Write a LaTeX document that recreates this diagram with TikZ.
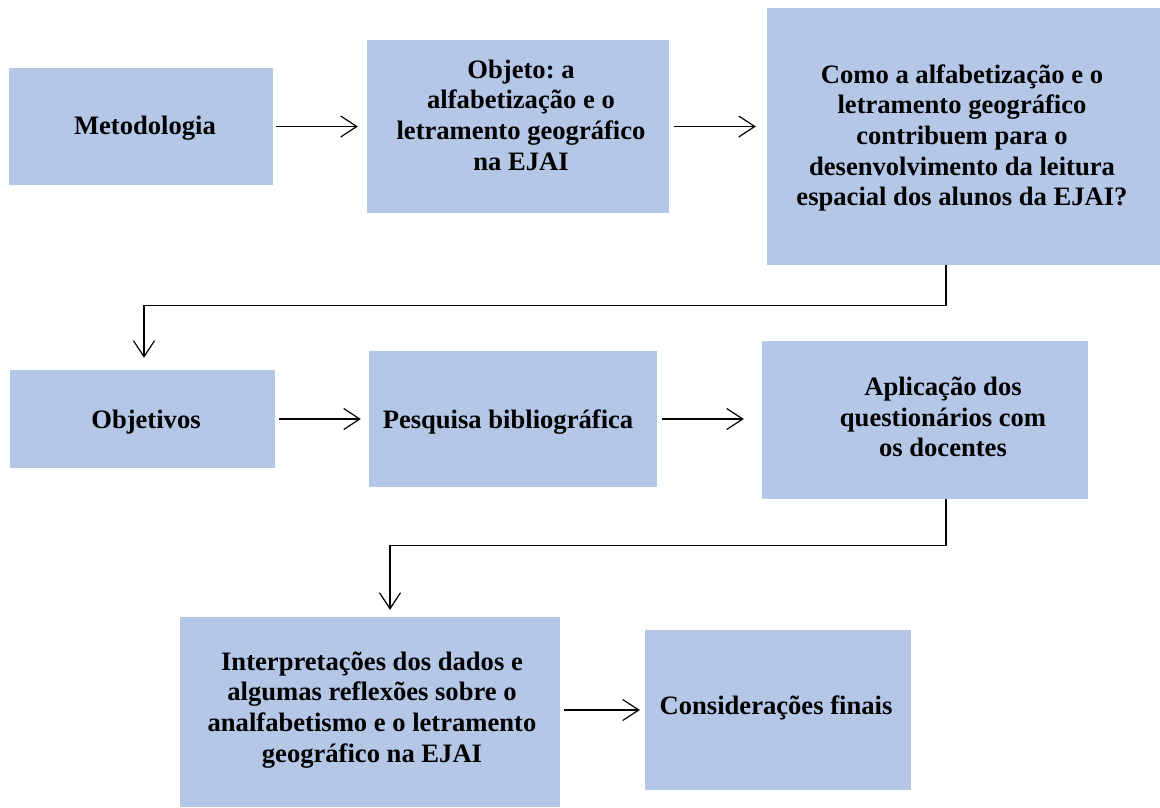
\documentclass[tikz,border=0pt]{standalone}
\usepackage{fontspec}
\setmainfont{Liberation Serif}
\usetikzlibrary{arrows.meta}
\definecolor{boxblue}{HTML}{B4C7E7}
\frenchspacing
\tikzset{
  box/.style={fill=boxblue, draw=none, inner sep=0pt},
  txt/.style={align=center, inner sep=0pt, font=\bfseries\fontsize{26.6}{30.7}\selectfont},
  arr/.style={line width=1.2pt, -{Straight Barb[length=16pt,width=21pt,line width=1.2pt]}}
}
\begin{document}
\begin{tikzpicture}[x=1pt,y=-1pt]
\useasboundingbox (0,0) rectangle (1160,807);
% boxes
\node[box, minimum width=264pt, minimum height=117pt] (b1) at (141,126.5) {};
\node[box, minimum width=302pt, minimum height=173pt] (b2) at (518,126.5) {};
\node[box, minimum width=393pt, minimum height=257pt] (b3) at (963.5,136.5) {};
\node[box, minimum width=265pt, minimum height=98pt] (b4) at (142.5,419) {};
\node[box, minimum width=288pt, minimum height=136pt] (b5) at (513,419) {};
\node[box, minimum width=326pt, minimum height=158pt] (b6) at (925,420) {};
\node[box, minimum width=380pt, minimum height=190pt] (b7) at (370,712) {};
\node[box, minimum width=266pt, minimum height=160pt] (b8) at (778,710) {};
% texts
\node[txt] (t1) at (145,128) {Metodologia};
\node[txt] (t2) at (521,115) {Objeto: a\\alfabetização e o\\letramento geográfico\\na EJAI};
\node[txt] (t3) at (962,138) {Como a alfabetização e o\\letramento geográfico\\contribuem para o\\desenvolvimento da leitura\\espacial dos alunos da EJAI?};
\node[txt] (t4) at (146,422) {Objetivos};
\node[txt] (t5) at (508,422) {Pesquisa bibliográfica};
\node[txt] (t6) at (943,417) {Aplicação dos\\questionários com\\os docentes};
\node[txt] (t7) at (372,710) {Interpretações dos dados e\\algumas reflexões sobre o\\analfabetismo e o letramento\\geográfico na EJAI};
\node[txt] (t8) at (776,708) {Considerações finais};
% arrows
\draw[arr] ([xshift=3pt]b1.east) -- ([xshift=-9pt]b2.west |- b1.east);
\draw[arr] ([xshift=5pt]b2.east) -- ([xshift=-11pt]b3.west |- b2.east);
\draw[arr] ([xshift=-17.5pt]b3.south) -- ++(0,40) -| ([xshift=1.5pt,yshift=12pt]b4.north);
\draw[arr] ([xshift=4pt]b4.east) -- ([xshift=-8pt]b5.west |- b4.east);
\draw[arr] ([xshift=5pt]b5.east) -- ([xshift=-18pt]b6.west |- b5.east);
\draw[arr] ([xshift=21pt]b6.south) -- ++(0,46) -| ([xshift=20pt,yshift=7pt]b7.north);
\draw[arr] ([xshift=4pt]b7.east |- b8.west) -- ([xshift=-5pt]b8.west);
\end{tikzpicture}
\end{document}
